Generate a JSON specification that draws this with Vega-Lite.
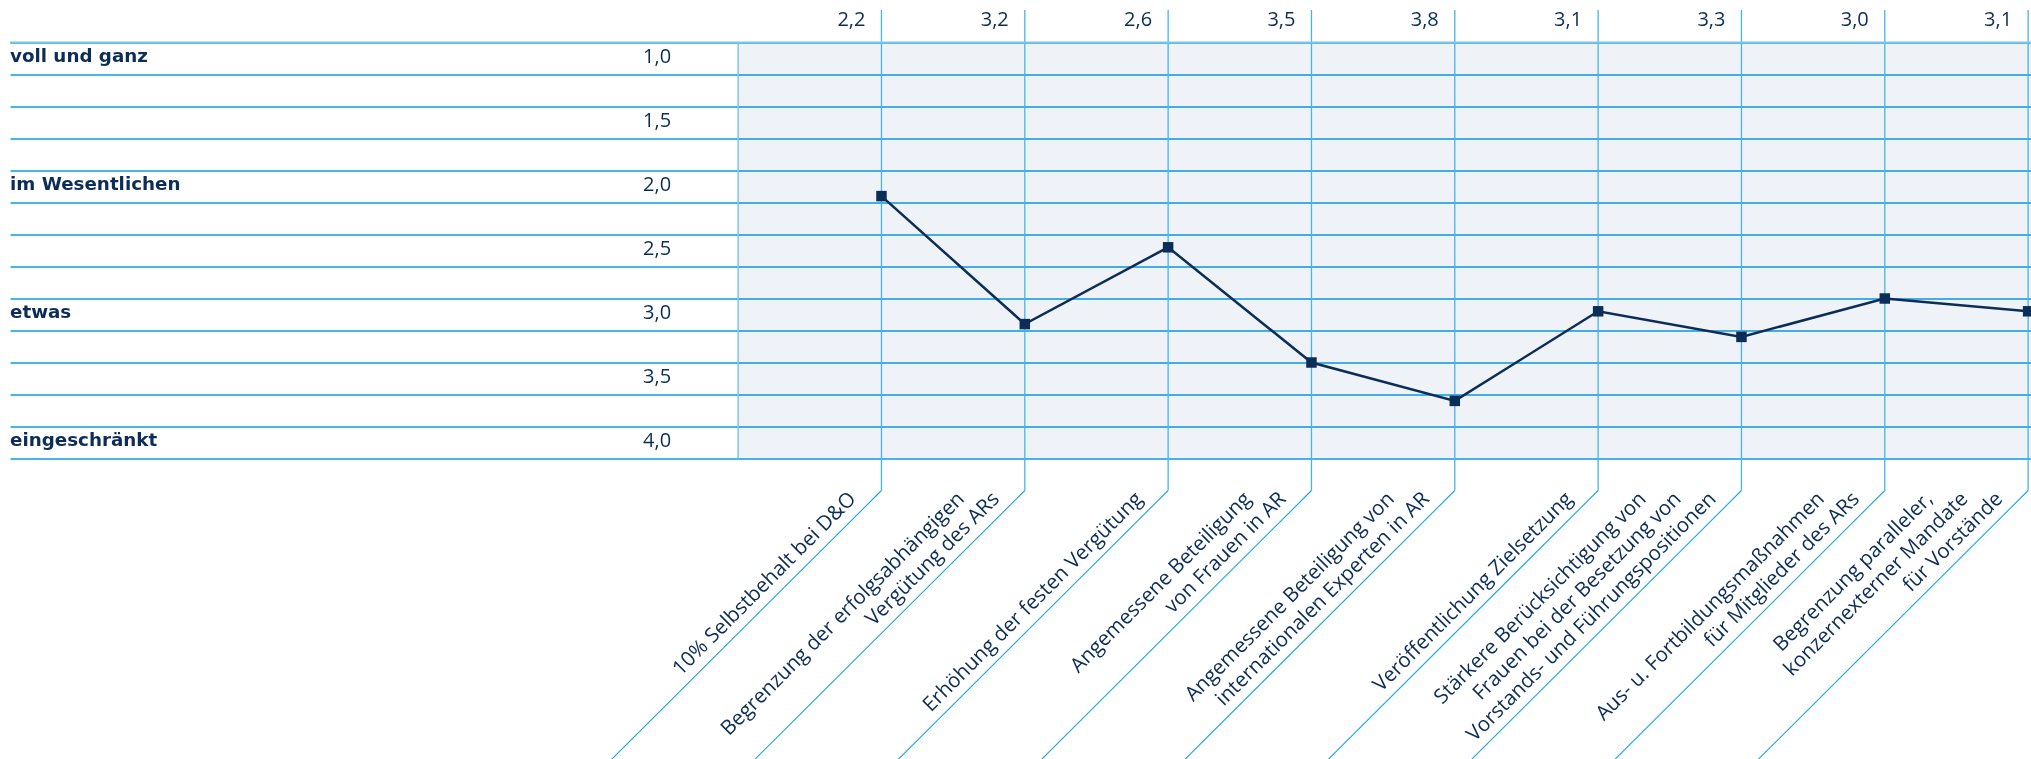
{
  "$schema": "https://vega.github.io/schema/vega-lite/v6.json",
  "width": 2021,
  "height": 416,
  "autosize": {"type": "none"},
  "padding": {"left": 10, "top": 42.5, "right": 0, "bottom": 300.5},
  "background": "white",
  "config": {
    "view": {"stroke": null},
    "locale": {"number": {"decimal": ",", "thousands": ".", "grouping": [3], "currency": ["", " €"]}}
  },
  "datasets": {
    "main": [
      {"idx": 1, "value": 2.2, "item": "10% Selbstbehalt bei D&O"},
      {"idx": 2, "value": 3.2, "item": "Begrenzung der erfolgsabhängigen Vergütung des ARs"},
      {"idx": 3, "value": 2.6, "item": "Erhöhung der festen Vergütung"},
      {"idx": 4, "value": 3.5, "item": "Angemessene Beteiligung von Frauen in AR"},
      {"idx": 5, "value": 3.8, "item": "Angemessene Beteiligung von internationalen Experten in AR"},
      {"idx": 6, "value": 3.1, "item": "Veröffentlichung Zielsetzung"},
      {"idx": 7, "value": 3.3, "item": "Stärkere Berücksichtigung von Frauen bei der Besetzung von Vorstands- und Führungspositionen"},
      {"idx": 8, "value": 3.0, "item": "Aus- u. Fortbildungsmaßnahmen für Mitglieder des ARs"},
      {"idx": 9, "value": 3.1, "item": "Begrenzung paralleler, konzernexterner Mandate für Vorstände"}
    ],
    "levels": [
      {"level": 1.0, "label": "voll und ganz"},
      {"level": 1.5, "label": ""},
      {"level": 2.0, "label": "im Wesentlichen"},
      {"level": 2.5, "label": ""},
      {"level": 3.0, "label": "etwas"},
      {"level": 3.5, "label": ""},
      {"level": 4.0, "label": "eingeschränkt"}
    ],
    "catlines": [
      {"idx": 1, "m": 0, "text": "10% Selbstbehalt bei D&O"},
      {"idx": 2, "m": 1, "text": "Begrenzung der erfolgsabhängigen"},
      {"idx": 2, "m": 0, "text": "Vergütung des ARs"},
      {"idx": 3, "m": 0, "text": "Erhöhung der festen Vergütung"},
      {"idx": 4, "m": 1, "text": "Angemessene Beteiligung"},
      {"idx": 4, "m": 0, "text": "von Frauen in AR"},
      {"idx": 5, "m": 1, "text": "Angemessene Beteiligung von"},
      {"idx": 5, "m": 0, "text": "internationalen Experten in AR"},
      {"idx": 6, "m": 0, "text": "Veröffentlichung Zielsetzung"},
      {"idx": 7, "m": 2, "text": "Stärkere Berücksichtigung von"},
      {"idx": 7, "m": 1, "text": "Frauen bei der Besetzung von"},
      {"idx": 7, "m": 0, "text": "Vorstands- und Führungspositionen"},
      {"idx": 8, "m": 1, "text": "Aus- u. Fortbildungsmaßnahmen"},
      {"idx": 8, "m": 0, "text": "für Mitglieder des ARs"},
      {"idx": 9, "m": 2, "text": "Begrenzung paralleler,"},
      {"idx": 9, "m": 1, "text": "konzernexterner Mandate"},
      {"idx": 9, "m": 0, "text": "für Vorstände"}
    ]
  },
  "layer": [
    {
      "data": {"values": [{}]},
      "mark": {"type": "rect", "fill": "#eff3f7", "blend": "multiply"},
      "encoding": {
        "x": {"datum": 0, "type": "quantitative", "scale": {"domain": [-5.08, 9.02], "nice": false, "zero": false}, "axis": null},
        "x2": {"datum": 9.02},
        "y": {"datum": 1, "type": "quantitative", "scale": {"domain": [1, 4.25], "reverse": true, "nice": false, "zero": false},
              "axis": {"grid": true, "values": [1, 1.25, 1.5, 1.75, 2, 2.25, 2.5, 2.75, 3, 3.25, 3.5, 3.75, 4, 4.25], "labels": false, "ticks": false, "domain": false, "title": null, "gridColor": "#06a0e4", "gridWidth": 1.5, "gridOpacity": 1}},
        "y2": {"datum": 4.25}
      }
    },
    {
      "data": {"name": "main"},
      "mark": {"type": "rule", "color": "#45b4ea", "strokeWidth": 1.3},
      "encoding": {
        "x": {"field": "idx", "type": "quantitative", "scale": {"domain": [-5.08, 9.02], "nice": false, "zero": false}, "axis": null},
        "y": {"datum": 0.746, "type": "quantitative", "scale": {"domain": [1, 4.25], "reverse": true, "nice": false, "zero": false},
              "axis": {"grid": true, "values": [1, 1.25, 1.5, 1.75, 2, 2.25, 2.5, 2.75, 3, 3.25, 3.5, 3.75, 4, 4.25], "labels": false, "ticks": false, "domain": false, "title": null, "gridColor": "#06a0e4", "gridWidth": 1.5, "gridOpacity": 1}},
        "y2": {"datum": 4.5}
      }
    },
    {
      "data": {"values": [{}]},
      "mark": {"type": "rule", "color": "#7cc6ea", "strokeWidth": 1.5},
      "encoding": {
        "x": {"datum": 0, "type": "quantitative", "scale": {"domain": [-5.08, 9.02], "nice": false, "zero": false}, "axis": null},
        "y": {"datum": 1, "type": "quantitative", "scale": {"domain": [1, 4.25], "reverse": true, "nice": false, "zero": false},
              "axis": {"grid": true, "values": [1, 1.25, 1.5, 1.75, 2, 2.25, 2.5, 2.75, 3, 3.25, 3.5, 3.75, 4, 4.25], "labels": false, "ticks": false, "domain": false, "title": null, "gridColor": "#06a0e4", "gridWidth": 1.5, "gridOpacity": 1}},
        "y2": {"datum": 4.25}
      }
    },
    {
      "data": {"values": [{}]},
      "mark": {"type": "rule", "color": "#7cc6ea", "strokeWidth": 2},
      "encoding": {
        "x": {"datum": -5.08, "type": "quantitative", "scale": {"domain": [-5.08, 9.02], "nice": false, "zero": false}, "axis": null},
        "x2": {"datum": 9.02},
        "y": {"datum": 1, "type": "quantitative", "scale": {"domain": [1, 4.25], "reverse": true, "nice": false, "zero": false},
              "axis": {"grid": true, "values": [1, 1.25, 1.5, 1.75, 2, 2.25, 2.5, 2.75, 3, 3.25, 3.5, 3.75, 4, 4.25], "labels": false, "ticks": false, "domain": false, "title": null, "gridColor": "#06a0e4", "gridWidth": 1.5, "gridOpacity": 1}}
      }
    },
    {
      "data": {"name": "main"},
      "mark": {"type": "rule", "color": "#1fa3e3", "strokeWidth": 1.1, "x2Offset": -270, "y2Offset": 269},
      "encoding": {
        "x": {"field": "idx", "type": "quantitative", "scale": {"domain": [-5.08, 9.02], "nice": false, "zero": false}, "axis": null},
        "x2": {"field": "idx"},
        "y": {"datum": 4.5, "type": "quantitative", "scale": {"domain": [1, 4.25], "reverse": true, "nice": false, "zero": false},
              "axis": {"grid": true, "values": [1, 1.25, 1.5, 1.75, 2, 2.25, 2.5, 2.75, 3, 3.25, 3.5, 3.75, 4, 4.25], "labels": false, "ticks": false, "domain": false, "title": null, "gridColor": "#06a0e4", "gridWidth": 1.5, "gridOpacity": 1}},
        "y2": {"datum": 4.5}
      }
    },
    {
      "data": {"name": "main"},
      "mark": {"type": "line", "color": "#0b2d57", "strokeWidth": 2.5},
      "encoding": {
        "x": {"field": "idx", "type": "quantitative", "scale": {"domain": [-5.08, 9.02], "nice": false, "zero": false}, "axis": null},
        "y": {"field": "value", "type": "quantitative", "scale": {"domain": [1, 4.25], "reverse": true, "nice": false, "zero": false},
              "axis": {"grid": true, "values": [1, 1.25, 1.5, 1.75, 2, 2.25, 2.5, 2.75, 3, 3.25, 3.5, 3.75, 4, 4.25], "labels": false, "ticks": false, "domain": false, "title": null, "gridColor": "#06a0e4", "gridWidth": 1.5, "gridOpacity": 1}}
      }
    },
    {
      "data": {"name": "main"},
      "mark": {"type": "point", "shape": "square", "filled": true, "size": 110, "color": "#0b2d57", "opacity": 1},
      "encoding": {
        "x": {"field": "idx", "type": "quantitative", "scale": {"domain": [-5.08, 9.02], "nice": false, "zero": false}, "axis": null},
        "y": {"field": "value", "type": "quantitative", "scale": {"domain": [1, 4.25], "reverse": true, "nice": false, "zero": false},
              "axis": {"grid": true, "values": [1, 1.25, 1.5, 1.75, 2, 2.25, 2.5, 2.75, 3, 3.25, 3.5, 3.75, 4, 4.25], "labels": false, "ticks": false, "domain": false, "title": null, "gridColor": "#06a0e4", "gridWidth": 1.5, "gridOpacity": 1}}
      }
    },
    {
      "data": {"name": "main"},
      "mark": {"type": "text", "align": "right", "baseline": "alphabetic", "dx": -16, "dy": -16.5, "font": "Open Sans", "fontSize": 20, "color": "#0b2d57"},
      "encoding": {
        "x": {"field": "idx", "type": "quantitative", "scale": {"domain": [-5.08, 9.02], "nice": false, "zero": false}, "axis": null},
        "y": {"datum": 1, "type": "quantitative", "scale": {"domain": [1, 4.25], "reverse": true, "nice": false, "zero": false},
              "axis": {"grid": true, "values": [1, 1.25, 1.5, 1.75, 2, 2.25, 2.5, 2.75, 3, 3.25, 3.5, 3.75, 4, 4.25], "labels": false, "ticks": false, "domain": false, "title": null, "gridColor": "#06a0e4", "gridWidth": 1.5, "gridOpacity": 1}},
        "text": {"field": "value", "type": "quantitative", "format": ".1f"}
      }
    },
    {
      "data": {"name": "levels"},
      "mark": {"type": "text", "align": "left", "baseline": "alphabetic", "dy": 19.5, "font": "DejaVu Sans", "fontSize": 18.3, "fontWeight": "bold", "color": "#0b2d57"},
      "encoding": {
        "x": {"datum": -5.08, "type": "quantitative", "scale": {"domain": [-5.08, 9.02], "nice": false, "zero": false}, "axis": null},
        "y": {"field": "level", "type": "quantitative", "scale": {"domain": [1, 4.25], "reverse": true, "nice": false, "zero": false},
              "axis": {"grid": true, "values": [1, 1.25, 1.5, 1.75, 2, 2.25, 2.5, 2.75, 3, 3.25, 3.5, 3.75, 4, 4.25], "labels": false, "ticks": false, "domain": false, "title": null, "gridColor": "#06a0e4", "gridWidth": 1.5, "gridOpacity": 1}},
        "text": {"field": "label", "type": "nominal"}
      }
    },
    {
      "data": {"name": "levels"},
      "mark": {"type": "text", "align": "right", "baseline": "alphabetic", "dx": -67, "dy": 20, "font": "Open Sans", "fontSize": 20, "color": "#0b2d57"},
      "encoding": {
        "x": {"datum": 0, "type": "quantitative", "scale": {"domain": [-5.08, 9.02], "nice": false, "zero": false}, "axis": null},
        "y": {"field": "level", "type": "quantitative", "scale": {"domain": [1, 4.25], "reverse": true, "nice": false, "zero": false},
              "axis": {"grid": true, "values": [1, 1.25, 1.5, 1.75, 2, 2.25, 2.5, 2.75, 3, 3.25, 3.5, 3.75, 4, 4.25], "labels": false, "ticks": false, "domain": false, "title": null, "gridColor": "#06a0e4", "gridWidth": 1.5, "gridOpacity": 1}},
        "text": {"field": "level", "type": "quantitative", "format": ".1f"}
      }
    },
    {
      "data": {"name": "catlines"},
      "transform": [{"filter": "datum.m == 0"}],
      "mark": {"type": "text", "angle": 315, "align": "right", "baseline": "alphabetic", "dx": -24, "dy": -10.5, "font": "Open Sans", "fontSize": 20.5, "color": "#0b2d57"},
      "encoding": {
        "x": {"field": "idx", "type": "quantitative", "scale": {"domain": [-5.08, 9.02], "nice": false, "zero": false}, "axis": null},
        "y": {"datum": 4.5, "type": "quantitative", "scale": {"domain": [1, 4.25], "reverse": true, "nice": false, "zero": false},
              "axis": {"grid": true, "values": [1, 1.25, 1.5, 1.75, 2, 2.25, 2.5, 2.75, 3, 3.25, 3.5, 3.75, 4, 4.25], "labels": false, "ticks": false, "domain": false, "title": null, "gridColor": "#06a0e4", "gridWidth": 1.5, "gridOpacity": 1}},
        "text": {"field": "text", "type": "nominal"}
      }
    },
    {
      "data": {"name": "catlines"},
      "transform": [{"filter": "datum.m == 1"}],
      "mark": {"type": "text", "angle": 315, "align": "right", "baseline": "alphabetic", "dx": -48.7, "dy": -35.2, "font": "Open Sans", "fontSize": 20.5, "color": "#0b2d57"},
      "encoding": {
        "x": {"field": "idx", "type": "quantitative", "scale": {"domain": [-5.08, 9.02], "nice": false, "zero": false}, "axis": null},
        "y": {"datum": 4.5, "type": "quantitative", "scale": {"domain": [1, 4.25], "reverse": true, "nice": false, "zero": false},
              "axis": {"grid": true, "values": [1, 1.25, 1.5, 1.75, 2, 2.25, 2.5, 2.75, 3, 3.25, 3.5, 3.75, 4, 4.25], "labels": false, "ticks": false, "domain": false, "title": null, "gridColor": "#06a0e4", "gridWidth": 1.5, "gridOpacity": 1}},
        "text": {"field": "text", "type": "nominal"}
      }
    },
    {
      "data": {"name": "catlines"},
      "transform": [{"filter": "datum.m == 2"}],
      "mark": {"type": "text", "angle": 315, "align": "right", "baseline": "alphabetic", "dx": -73.4, "dy": -59.9, "font": "Open Sans", "fontSize": 20.5, "color": "#0b2d57"},
      "encoding": {
        "x": {"field": "idx", "type": "quantitative", "scale": {"domain": [-5.08, 9.02], "nice": false, "zero": false}, "axis": null},
        "y": {"datum": 4.5, "type": "quantitative", "scale": {"domain": [1, 4.25], "reverse": true, "nice": false, "zero": false},
              "axis": {"grid": true, "values": [1, 1.25, 1.5, 1.75, 2, 2.25, 2.5, 2.75, 3, 3.25, 3.5, 3.75, 4, 4.25], "labels": false, "ticks": false, "domain": false, "title": null, "gridColor": "#06a0e4", "gridWidth": 1.5, "gridOpacity": 1}},
        "text": {"field": "text", "type": "nominal"}
      }
    }
  ]
}
